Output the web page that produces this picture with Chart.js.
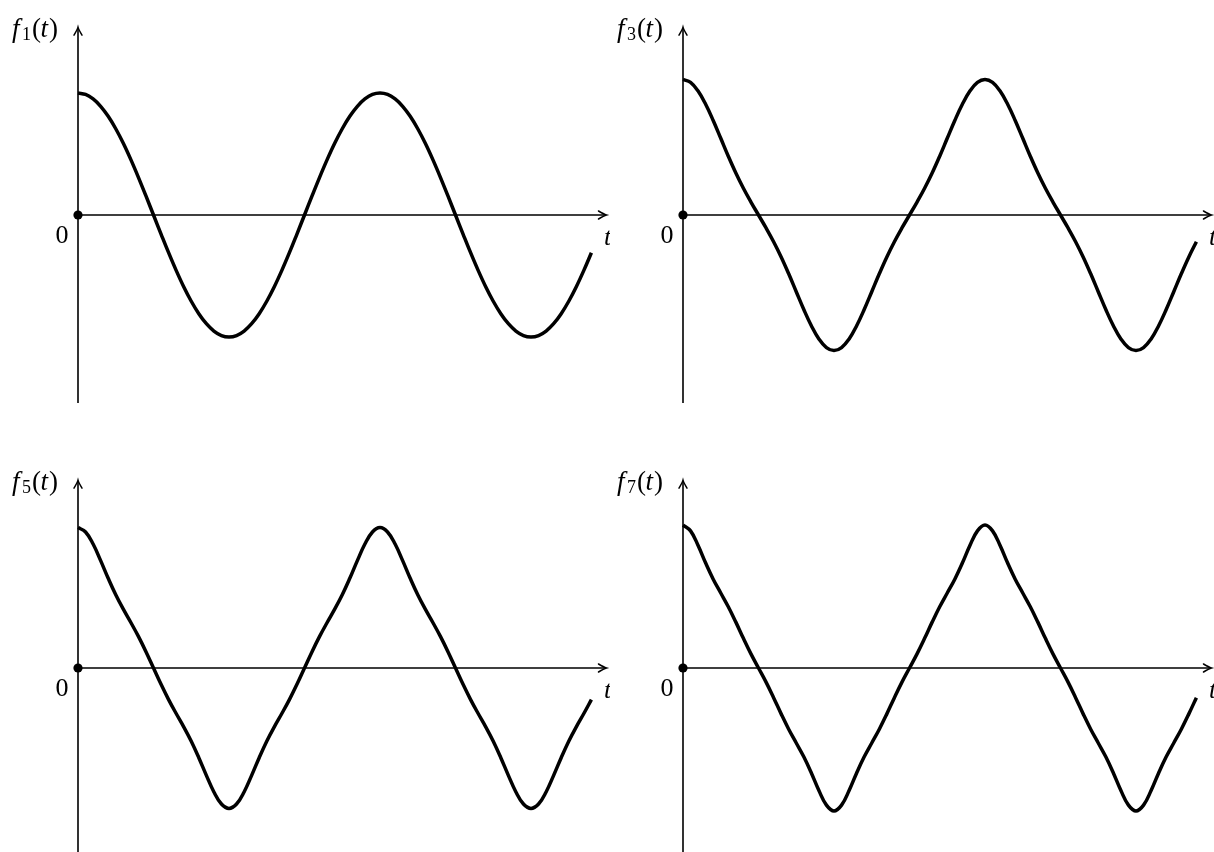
<!DOCTYPE html>
<html>
<head>
<meta charset="utf-8">
<script src="https://cdn.jsdelivr.net/npm/chart.js@4.4.1/dist/chart.umd.min.js"></script>
<style>
  html, body { margin: 0; padding: 0; background: #fff; overflow: hidden; }
  body { width: 1214px; height: 852px; position: relative; }
  canvas { position: absolute; }
</style>
</head>
<body>
<canvas id="c1" width="610" height="453" style="left:0;top:0"></canvas>
<canvas id="c3" width="610" height="453" style="left:605px;top:0"></canvas>
<canvas id="c5" width="610" height="453" style="left:0;top:453px"></canvas>
<canvas id="c7" width="610" height="453" style="left:605px;top:453px"></canvas>
<script>
// t in degrees (one period = 360)
const tDeg = [0, 9, 18, 27, 36, 45, 54, 63, 72, 81, 90, 99, 108, 117, 126, 135, 144, 153, 162, 171,
  180, 189, 198, 207, 216, 225, 234, 243, 252, 261, 270, 279, 288, 297, 306, 315, 324, 333, 342, 351,
  360, 369, 378, 387, 396, 405, 414, 423, 432, 441, 450, 459, 468, 477, 486, 495, 504, 513, 522, 531,
  540, 549, 558, 567, 576, 585, 594, 603, 612];

// valeurs (unité = amplitude de f1)
const f1 = [1, 0.988, 0.951, 0.891, 0.809, 0.707, 0.588, 0.454, 0.309, 0.156, 0,
  -0.156, -0.309, -0.454, -0.588, -0.707, -0.809, -0.891, -0.951, -0.988, -1,
  -0.988, -0.951, -0.891, -0.809, -0.707, -0.588, -0.454, -0.309, -0.156, 0,
  0.156, 0.309, 0.454, 0.588, 0.707, 0.809, 0.891, 0.951, 0.988, 1,
  0.988, 0.951, 0.891, 0.809, 0.707, 0.588, 0.454, 0.309, 0.156, 0,
  -0.156, -0.309, -0.454, -0.588, -0.707, -0.809, -0.891, -0.951, -0.988, -1,
  -0.988, -0.951, -0.891, -0.809, -0.707, -0.588, -0.454, -0.309];

const f3 = [1.111, 1.087, 1.016, 0.908, 0.775, 0.629, 0.482, 0.344, 0.219, 0.106, 0,
  -0.106, -0.219, -0.344, -0.482, -0.629, -0.775, -0.908, -1.016, -1.087, -1.111,
  -1.087, -1.016, -0.908, -0.775, -0.629, -0.482, -0.344, -0.219, -0.106, 0,
  0.106, 0.219, 0.344, 0.482, 0.629, 0.775, 0.908, 1.016, 1.087, 1.111,
  1.087, 1.016, 0.908, 0.775, 0.629, 0.482, 0.344, 0.219, 0.106, 0,
  -0.106, -0.219, -0.344, -0.482, -0.629, -0.775, -0.908, -1.016, -1.087, -1.111,
  -1.087, -1.016, -0.908, -0.775, -0.629, -0.482, -0.344, -0.219];

const f5 = [1.151, 1.115, 1.016, 0.880, 0.735, 0.600, 0.482, 0.373, 0.259, 0.134, 0,
  -0.134, -0.259, -0.373, -0.482, -0.600, -0.735, -0.880, -1.016, -1.115, -1.151,
  -1.115, -1.016, -0.880, -0.735, -0.600, -0.482, -0.373, -0.259, -0.134, 0,
  0.134, 0.259, 0.373, 0.482, 0.600, 0.735, 0.880, 1.016, 1.115, 1.151,
  1.115, 1.016, 0.880, 0.735, 0.600, 0.482, 0.373, 0.259, 0.134, 0,
  -0.134, -0.259, -0.373, -0.482, -0.600, -0.735, -0.880, -1.016, -1.115, -1.151,
  -1.115, -1.016, -0.880, -0.735, -0.600, -0.482, -0.373, -0.259];

const f7 = [1.172, 1.124, 1.004, 0.860, 0.728, 0.615, 0.502, 0.376, 0.243, 0.116, 0,
  -0.116, -0.243, -0.376, -0.502, -0.615, -0.728, -0.860, -1.004, -1.124, -1.172,
  -1.124, -1.004, -0.860, -0.728, -0.615, -0.502, -0.376, -0.243, -0.116, 0,
  0.116, 0.243, 0.376, 0.502, 0.615, 0.728, 0.860, 1.004, 1.124, 1.172,
  1.124, 1.004, 0.860, 0.728, 0.615, 0.502, 0.376, 0.243, 0.116, 0,
  -0.116, -0.243, -0.376, -0.502, -0.615, -0.728, -0.860, -1.004, -1.124, -1.172,
  -1.124, -1.004, -0.860, -0.728, -0.615, -0.502, -0.376, -0.243];

const panels = [
  { id: 'c1', sub: '1', values: f1 },
  { id: 'c3', sub: '3', values: f3 },
  { id: 'c5', sub: '5', values: f5 },
  { id: 'c7', sub: '7', values: f7 }
];

const SERIF = '"Liberation Serif", "DejaVu Serif", serif';

function arrowHead(ctx, x, y, angle) {
  ctx.save();
  ctx.translate(x, y);
  ctx.rotate(angle);
  ctx.lineWidth = 1.5;
  ctx.beginPath();
  ctx.moveTo(-8, -4);
  ctx.quadraticCurveTo(-2.5, -0.7, 0, 0);
  ctx.quadraticCurveTo(-2.5, 0.7, -8, 4);
  ctx.stroke();
  ctx.restore();
}

// f_n(t) posé glyphe par glyphe, façon LaTeX
function drawLabel(ctx, x0, y0, sub) {
  const base = y0 - 178;
  ctx.textAlign = 'left';
  ctx.font = 'italic 27px ' + SERIF;
  ctx.fillText('f', x0 - 66, base);
  ctx.font = '18px ' + SERIF;
  ctx.fillText(sub, x0 - 56, base + 3);
  ctx.font = '27px ' + SERIF;
  ctx.fillText('(', x0 - 46, base);
  ctx.font = 'italic 27px ' + SERIF;
  ctx.fillText('t', x0 - 37.5, base);
  ctx.font = '27px ' + SERIF;
  ctx.fillText(')', x0 - 29, base);
}

// axes fléchées, origine, étiquettes
const axesDecor = {
  id: 'axesDecor',
  beforeDatasetsDraw(chart, args, opts) {
    const ctx = chart.ctx;
    const xs = chart.scales.x, ys = chart.scales.y;
    const x0 = xs.getPixelForValue(0), y0 = ys.getPixelForValue(0);
    const xEnd = xs.getPixelForValue(630);
    const yTop = ys.getPixelForValue(1.54), yBot = ys.getPixelForValue(-1.54);
    ctx.save();
    ctx.strokeStyle = '#000';
    ctx.fillStyle = '#000';
    ctx.lineWidth = 1.6;
    ctx.lineCap = 'butt';
    ctx.beginPath();
    ctx.moveTo(x0, y0);
    ctx.lineTo(xEnd - 1, y0);
    ctx.moveTo(x0, yBot);
    ctx.lineTo(x0, yTop + 1);
    ctx.stroke();
    ctx.lineCap = 'round';
    arrowHead(ctx, xEnd, y0, 0);
    arrowHead(ctx, x0, yTop, -Math.PI / 2);
    ctx.beginPath();
    ctx.arc(x0, y0, 4.6, 0, Math.PI * 2);
    ctx.fill();
    ctx.textBaseline = 'alphabetic';
    ctx.textAlign = 'center';
    ctx.font = '26px ' + SERIF;
    ctx.fillText('0', x0 - 16, y0 + 28);
    ctx.font = 'italic 26px ' + SERIF;
    ctx.fillText('t', xEnd + 1, y0 + 30);
    drawLabel(ctx, x0, y0, opts.sub);
    ctx.restore();
  }
};

panels.forEach(function (p) {
  const ctx = document.getElementById(p.id).getContext('2d');
  new Chart(ctx, {
    type: 'line',
    data: {
      datasets: [{
        data: tDeg.map((t, i) => ({ x: t, y: p.values[i] })),
        borderColor: '#000',
        borderWidth: 3.5,
        pointRadius: 0,
        tension: 0.4,
        fill: false,
        clip: false
      }]
    },
    options: {
      responsive: false,
      devicePixelRatio: 1,
      animation: false,
      events: [],
      layout: { padding: { left: 78, right: 18.6, top: 27.12, bottom: 50.12 } },
      plugins: {
        legend: { display: false },
        tooltip: { enabled: false },
        axesDecor: { sub: p.sub }
      },
      scales: {
        x: { type: 'linear', min: 0, max: 612, display: false },
        y: { min: -1.54, max: 1.54, display: false }
      }
    },
    plugins: [axesDecor]
  });
});
</script>
</body>
</html>
